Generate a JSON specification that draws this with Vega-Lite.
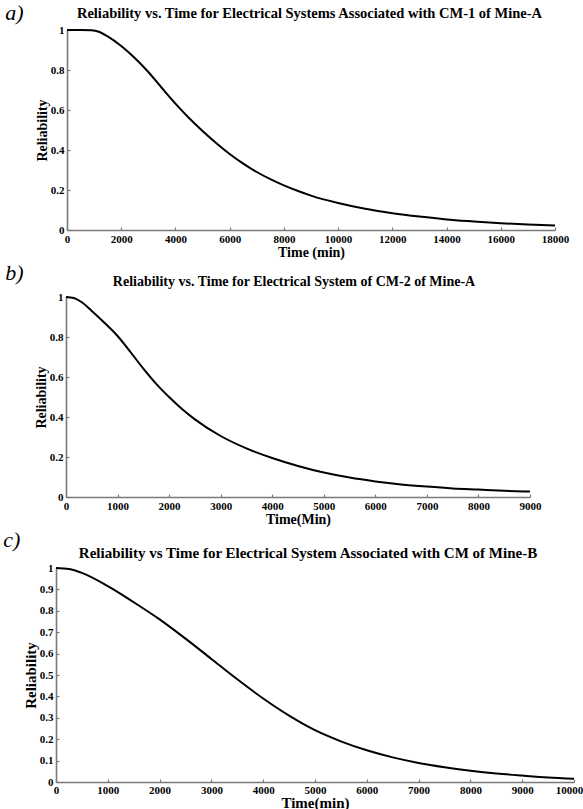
{
  "$schema": "https://vega.github.io/schema/vega-lite/v6.json",
  "padding": {"left": 3, "top": 1, "right": 0, "bottom": 0},
  "background": "white",
  "spacing": 3,
  "config": {
    "font": "Liberation Serif",
    "view": {"stroke": null},
    "title": {"font": "Liberation Serif", "fontWeight": "bold", "fontSize": 14.5, "color": "black", "anchor": "middle"},
    "axis": {
      "labelFont": "Liberation Serif", "labelFontWeight": "bold", "labelFontSize": 11, "labelColor": "black",
      "titleFont": "Liberation Serif", "titleFontWeight": "bold", "titleFontSize": 14, "titleColor": "black",
      "domainColor": "#7a7a7a", "domainWidth": 1.6, "tickColor": "#7a7a7a", "tickWidth": 1.2, "tickSize": -3,
      "grid": false, "labelFlush": false, "labelPadding": 6, "titlePadding": 1
    }
  },
  "vconcat": [
    {
      "title": {"text": "a)", "anchor": "start", "font": "Liberation Serif", "fontStyle": "italic", "fontWeight": "normal", "fontSize": 22, "dx": -30, "offset": -19},
      "vconcat": [
        {
          "width": 499, "height": 200,
          "title": {"text": "Reliability vs. Time for Electrical Systems Associated with CM-1 of Mine-A", "offset": 3, "dx": 4},
          "data": {"values": [
            {"t": 0, "R": 1}, {"t": 500, "R": 1}, {"t": 900, "R": 0.999}, {"t": 1200, "R": 0.99}, {"t": 1500, "R": 0.968},
            {"t": 2000, "R": 0.92}, {"t": 2500, "R": 0.86}, {"t": 3000, "R": 0.79}, {"t": 3500, "R": 0.71}, {"t": 4000, "R": 0.632},
            {"t": 4500, "R": 0.56}, {"t": 5000, "R": 0.495}, {"t": 5500, "R": 0.435}, {"t": 6000, "R": 0.38}, {"t": 6500, "R": 0.332},
            {"t": 7000, "R": 0.29}, {"t": 7500, "R": 0.254}, {"t": 8000, "R": 0.223}, {"t": 8500, "R": 0.196}, {"t": 9000, "R": 0.172},
            {"t": 10000, "R": 0.135}, {"t": 11000, "R": 0.106}, {"t": 12000, "R": 0.084}, {"t": 13000, "R": 0.067}, {"t": 14000, "R": 0.053},
            {"t": 15000, "R": 0.043}, {"t": 16000, "R": 0.034}, {"t": 17000, "R": 0.027}, {"t": 18000, "R": 0.022}
          ]},
          "mark": {"type": "line", "color": "black", "strokeWidth": 2, "interpolate": "monotone"},
          "encoding": {
            "x": {"field": "t", "type": "quantitative", "scale": {"domain": [0, 18000], "range": [11, 499], "nice": false},
                  "axis": {"values": [0, 2000, 4000, 6000, 8000, 10000, 12000, 14000, 16000, 18000], "format": "d", "title": "Time (min)"}},
            "y": {"field": "R", "type": "quantitative", "scale": {"domain": [0, 1], "nice": false},
                  "axis": {"values": [0, 0.2, 0.4, 0.6, 0.8, 1], "format": "~g", "title": "Reliability", "offset": -11}}
          }
        }
      ]
    },
    {
      "title": {"text": "b)", "anchor": "start", "font": "Liberation Serif", "fontStyle": "italic", "fontWeight": "normal", "fontSize": 22, "dx": -29, "offset": -10},
      "vconcat": [
        {
          "width": 474, "height": 200,
          "title": {"text": "Reliability vs. Time for Electrical System of CM-2 of Mine-A", "offset": 2, "dx": 1, "fontSize": 14},
          "data": {"values": [
            {"t": 0, "R": 1}, {"t": 150, "R": 0.995}, {"t": 300, "R": 0.975}, {"t": 500, "R": 0.93}, {"t": 750, "R": 0.87},
            {"t": 1000, "R": 0.805}, {"t": 1250, "R": 0.725}, {"t": 1500, "R": 0.642}, {"t": 1750, "R": 0.566}, {"t": 2000, "R": 0.5},
            {"t": 2250, "R": 0.44}, {"t": 2500, "R": 0.388}, {"t": 3000, "R": 0.305}, {"t": 3500, "R": 0.243}, {"t": 4000, "R": 0.195},
            {"t": 4500, "R": 0.155}, {"t": 5000, "R": 0.122}, {"t": 5500, "R": 0.097}, {"t": 6000, "R": 0.078}, {"t": 6500, "R": 0.063},
            {"t": 7000, "R": 0.052}, {"t": 7500, "R": 0.043}, {"t": 8000, "R": 0.037}, {"t": 8500, "R": 0.031}, {"t": 9000, "R": 0.027}
          ]},
          "mark": {"type": "line", "color": "black", "strokeWidth": 2, "interpolate": "monotone"},
          "encoding": {
            "x": {"field": "t", "type": "quantitative", "scale": {"domain": [0, 9000], "range": [10, 474], "nice": false},
                  "axis": {"values": [0, 1000, 2000, 3000, 4000, 5000, 6000, 7000, 8000, 9000], "format": "d", "title": "Time(Min)"}},
            "y": {"field": "R", "type": "quantitative", "scale": {"domain": [0, 1], "nice": false},
                  "axis": {"values": [0, 0.2, 0.4, 0.6, 0.8, 1], "format": "~g", "title": "Reliability", "offset": -10}}
          }
        }
      ]
    },
    {
      "title": {"text": "c)", "anchor": "start", "font": "Liberation Serif", "fontStyle": "italic", "fontWeight": "normal", "fontSize": 22, "dx": -20, "offset": -6},
      "vconcat": [
        {
          "width": 518, "height": 214,
          "title": {"text": "Reliability vs Time for Electrical System Associated with CM of Mine-B", "offset": 1, "dx": -7, "fontSize": 15},
          "data": {"values": [
            {"t": 0, "R": 1}, {"t": 250, "R": 0.995}, {"t": 500, "R": 0.977}, {"t": 1000, "R": 0.915}, {"t": 1500, "R": 0.84},
            {"t": 2000, "R": 0.76}, {"t": 2500, "R": 0.67}, {"t": 3000, "R": 0.575}, {"t": 3500, "R": 0.48}, {"t": 4000, "R": 0.39},
            {"t": 4500, "R": 0.31}, {"t": 5000, "R": 0.242}, {"t": 5500, "R": 0.19}, {"t": 6000, "R": 0.148}, {"t": 6500, "R": 0.115},
            {"t": 7000, "R": 0.089}, {"t": 7500, "R": 0.069}, {"t": 8000, "R": 0.053}, {"t": 8500, "R": 0.04}, {"t": 9000, "R": 0.03},
            {"t": 9500, "R": 0.021}, {"t": 10000, "R": 0.015}
          ]},
          "mark": {"type": "line", "color": "black", "strokeWidth": 2, "interpolate": "monotone"},
          "encoding": {
            "x": {"field": "t", "type": "quantitative", "scale": {"domain": [0, 10000], "nice": false},
                  "axis": {"values": [0, 1000, 2000, 3000, 4000, 5000, 6000, 7000, 8000, 9000, 10000], "format": "d", "title": "Time(min)", "titleFontSize": 15, "titlePadding": 0, "labelPadding": 5,
                           "labelOffset": {"condition": {"test": "datum.value == 10000", "value": -5}, "value": 0}}},
            "y": {"field": "R", "type": "quantitative", "scale": {"domain": [0, 1], "nice": false},
                  "axis": {"values": [0, 0.1, 0.2, 0.3, 0.4, 0.5, 0.6, 0.7, 0.8, 0.9, 1], "format": "~g", "title": "Reliability", "titleFontSize": 15}}
          }
        }
      ]
    }
  ]
}
